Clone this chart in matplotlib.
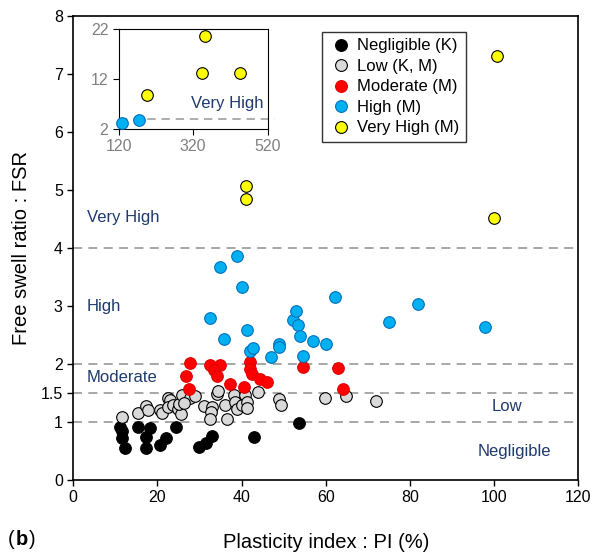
import numpy as np
import matplotlib
matplotlib.use('Agg')
import matplotlib.pyplot as plt
from matplotlib.lines import Line2D

plt.rcParams['font.family'] = ['Liberation Sans', 'DejaVu Sans']

# --- data: (PI %, FSR) ---
neg_pi = [11.0, 11.6, 11.6, 12.3, 15.5, 17.3, 17.3, 18.3, 20.7, 22.1, 24.5,
          29.8, 31.6, 32.9, 43.0, 53.7]
neg_fsr = [0.92, 0.85, 0.72, 0.56, 0.92, 0.75, 0.55, 0.89, 0.60, 0.72, 0.92,
           0.57, 0.64, 0.76, 0.75, 0.98]

low_pi = [11.6, 15.5, 17.3, 17.7, 20.5, 21.1, 22.4, 22.9, 22.6, 23.8, 24.8,
          25.6, 25.2, 26.6, 25.8, 27.8, 29.0, 26.2, 31.0, 32.9, 32.7, 32.5,
          34.1, 34.3, 36.1, 36.6, 38.1, 38.5, 39.0, 40.1, 40.9, 41.3, 41.3,
          44.0, 48.8, 49.3, 59.7, 64.8, 71.9]
low_fsr = [1.08, 1.15, 1.27, 1.20, 1.21, 1.15, 1.42, 1.38, 1.26, 1.30, 1.22,
           1.14, 1.31, 1.38, 1.47, 1.41, 1.44, 1.32, 1.28, 1.26, 1.18, 1.06,
           1.49, 1.53, 1.29, 1.05, 1.47, 1.35, 1.22, 1.29, 1.47, 1.35, 1.24,
           1.51, 1.40, 1.29, 1.42, 1.44, 1.36]

mod_pi = [27.7, 26.8, 27.4, 32.4, 34.9, 33.5, 34.1, 37.3, 40.5, 41.9, 42.0,
          42.4, 44.3, 46.0, 54.5, 62.9, 64.1]
mod_fsr = [2.02, 1.79, 1.57, 1.98, 1.98, 1.90, 1.80, 1.65, 1.61, 2.03, 1.92,
           1.82, 1.74, 1.69, 1.94, 1.93, 1.57]

high_pi = [34.9, 38.9, 40.1, 32.4, 35.9, 41.2, 42.0, 42.8, 47.0, 48.8, 49.0,
           52.3, 53.0, 53.5, 53.8, 54.7, 56.9, 60.0, 62.2, 74.9, 81.9, 97.9]
high_fsr = [3.68, 3.86, 3.33, 2.79, 2.43, 2.59, 2.23, 2.27, 2.12, 2.34, 2.29,
            2.76, 2.92, 2.67, 2.48, 2.13, 2.40, 2.34, 3.16, 2.73, 3.03, 2.63]

vh_pi = [41.0, 41.0, 100.0, 100.7]
vh_fsr = [5.07, 4.85, 4.52, 7.31]

# inset (extreme values)
ins_high_pi = [128, 174]
ins_high_fsr = [3.2, 3.8]
ins_vh_pi = [195, 343, 353, 445]
ins_vh_fsr = [8.8, 13.2, 20.6, 13.2]

navy = '#1F3A6E'
dash_c = '#A0A0A0'

groups = [
    (neg_pi, neg_fsr, 'black', 'black', 'Negligible (K)'),
    (low_pi, low_fsr, '#D9D9D9', 'black', 'Low (K, M)'),
    (mod_pi, mod_fsr, '#FF0000', '#E00000', 'Moderate (M)'),
    (high_pi, high_fsr, '#00B0F0', '#0070C0', 'High (M)'),
    (vh_pi, vh_fsr, '#FFFF00', 'black', 'Very High (M)'),
]

fig = plt.figure(figsize=(6.0, 5.53), dpi=100)
ax = fig.add_axes([0.122, 0.132, 0.842, 0.839])

for yv in [1, 1.5, 2, 4]:
    ax.axhline(yv, color=dash_c, lw=1.3, ls=(0, (5, 3.5)), zorder=1)

for px, fy, fc, ec, lab in groups:
    ax.scatter(px, fy, s=70, c=fc, edgecolors=ec, linewidths=0.8, zorder=3)

ax.set_xlim(0, 120)
ax.set_ylim(0, 8)
ax.set_xticks(range(0, 121, 20))
ax.set_yticks([0, 1, 1.5, 2, 3, 4, 5, 6, 7, 8])
ax.set_yticklabels(['0', '1', '1.5', '2', '3', '4', '5', '6', '7', '8'])
ax.tick_params(labelsize=11.5, direction='out', length=4, width=1)
for s in ax.spines.values():
    s.set_linewidth(1.2)
ax.set_xlabel('Plasticity index : PI (%)', fontsize=14.5, labelpad=20)
ax.set_ylabel('Free swell ratio : FSR', fontsize=14.5, labelpad=7)

for txt, xx, yy in [('Very High', 3.3, 4.52), ('High', 3.3, 3.0),
                    ('Moderate', 3.3, 1.76), ('Low', 99.5, 1.27),
                    ('Negligible', 96.0, 0.5)]:
    ax.text(xx, yy, txt, color=navy, fontsize=12, va='center')

handles = [Line2D([], [], ls='', marker='o', ms=8.5, mfc=fc, mec=ec, mew=0.8)
           for _, _, fc, ec, _ in groups]
labels = [g[4] for g in groups]
leg = ax.legend(handles, labels, loc='upper left', bbox_to_anchor=(0.493, 0.966),
                borderaxespad=0, fontsize=12, frameon=True, fancybox=False,
                edgecolor='black', handletextpad=0.2, borderpad=0.4,
                labelspacing=0.33, handlelength=1.5)
leg.get_frame().set_linewidth(1.0)

# inset
ins = fig.add_axes([0.198, 0.767, 0.248, 0.181])
ins.axhline(4, color=dash_c, lw=1.2, ls=(0, (5, 3.5)), zorder=1, clip_on=False,
            xmax=1.05)
ins.scatter(ins_high_pi, ins_high_fsr, s=70, c='#00B0F0', edgecolors='#0070C0',
            linewidths=0.8, zorder=3, clip_on=False)
ins.scatter(ins_vh_pi, ins_vh_fsr, s=70, c='#FFFF00', edgecolors='black',
            linewidths=0.8, zorder=3, clip_on=False)
ins.set_xlim(120, 520)
ins.set_ylim(2, 22)
ins.set_xticks([120, 320, 520])
ins.set_yticks([2, 12, 22])
ins.tick_params(labelsize=11.5, labelcolor='#808080', length=4)
ins.text(510, 7.0, 'Very High', color=navy, fontsize=12, ha='right', va='center')

# panel tag
fig.text(0.013, 0.014, '(', fontsize=14.5)
fig.text(0.026, 0.014, 'b', fontsize=14.5, fontweight='bold')
fig.text(0.048, 0.014, ')', fontsize=14.5)

fig.savefig('out.png', dpi=100)
